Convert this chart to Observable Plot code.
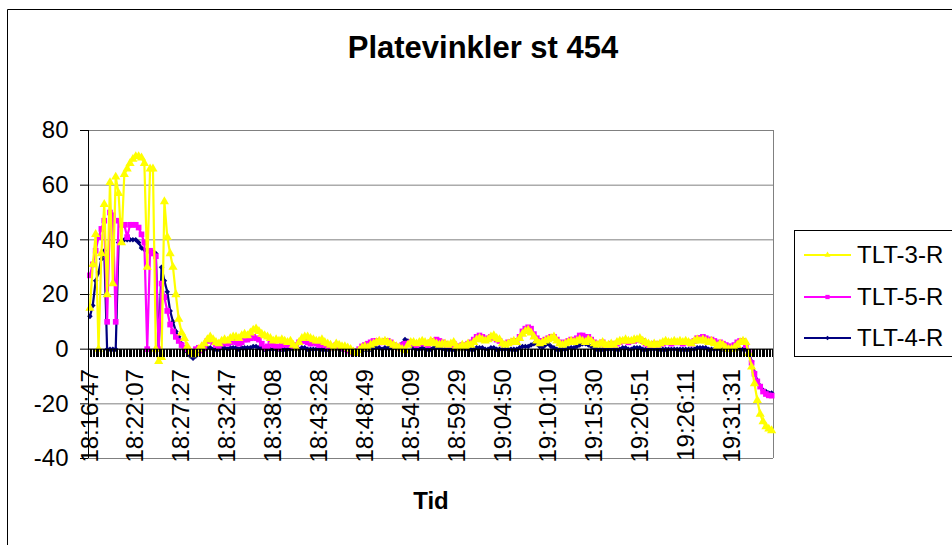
<!DOCTYPE html>
<html>
<head>
<meta charset="utf-8">
<script src="https://cdn.jsdelivr.net/npm/d3@7"></script>
<script src="https://cdn.jsdelivr.net/npm/@observablehq/plot@0.6"></script>
<style>
  html, body { margin: 0; padding: 0; background: #fff; }
  #wrap { position: relative; width: 952px; height: 545px; overflow: hidden; font-family: "Liberation Sans", Arial, sans-serif; }
  #wrap > svg { position: absolute; left: 0; top: 0; }
  #overlay { pointer-events: none; }
</style>
</head>
<body>
<div id="wrap"></div>
<script>
// ---------- data ----------
const chartTitle = "Platevinkler st 454";
const xTitle = "Tid";
const startTime = "18:16:47";
const stepSeconds = 20;
const tickLabels = ["18:16:47","18:22:07","18:27:27","18:32:47","18:38:08","18:43:28","18:48:49","18:54:09","18:59:29","19:04:50","19:10:10","19:15:30","19:20:51","19:26:11","19:31:31"];
const yTicks = [-40, -20, 0, 20, 40, 60, 80];
const seriesNames = ["TLT-3-R", "TLT-5-R", "TLT-4-R"];

const tlt3 = [15,31,42,0,35,53,20,61,24,63,57,39,64,66,68,69.5,70.5,70.5,70,68,30,66,66,0,-4.5,-3,54,41,35,30,20,11,6,4,1,-1,-2,-1.5,0,
  1,2,3.5,4.5,3.5,2.5,2,3,3.5,3,
  4,4.5,4.5,4,5,5.5,5,6,7,7.5,
  6.5,5.5,5,4.5,4,3,3.5,3,3.5,3,
  2.5,3,1.5,0.5,2.5,4,4.5,4.5,4,3.5,
  3,3,3.5,2.5,2,1.5,0.5,2,1.5,1,
  1,0.5,0,-1,-1.5,-0.5,0.5,1,0.5,1.5,2,
  2.5,3,2.5,3,2.5,2,1.5,1,0.5,0,
  -0.5,1.5,2.5,2.5,2,2.5,3,2.5,2,3,
  2.5,2,1.5,2,2,1.5,2,2.5,1,0.5,
  1.5,1,2,1.5,2.5,3.5,4,3.5,3,3.5,
  4.5,5,4,3.5,2,1.5,2,2.5,3,2.5,
  4,5.5,6.5,7,6,4.5,3,2,2.5,3,
  3.5,4,4.5,3,2,1.5,2,2.5,3,2.5,
  3,3.5,3,2.5,3.5,3,2,1.5,2,2.5,
  1.5,1.5,2,1.5,2.5,3,3,3.5,3,3,
  3.5,3.5,4,3,2.5,2,1.5,2,1.5,2,
  2.5,3,2.5,2.5,3,2.5,3,2.5,3,2.5,
  2,3,3.5,3,3.5,3,2.5,3,2,1,
  2,1.5,0.5,0,0,0.5,1.5,2.5,3,2.5,
  -1.5,-6.5,-12.6,-18.7,-23.8,-26.5,-28.3,-29.2,-29.8];

const tlt5 = [27,31,36,41,44,47,10,50,49,10,47,45.5,45.5,41,45.5,45.5,45.5,44.5,42,39,0,36,35,34,0,24,19,14,9,6.5,4.5,3,1.5,0.5,0,-1,-1,0,0.5,
  -0.5,0.5,3,3.5,2.5,1.5,1,2,2.5,2,
  2.5,3,2.5,2,2.5,3.5,3.5,4,4.5,4,
  3.5,2,0.5,1,2,1.5,1,0.5,1.5,2,
  1.5,2,1,1.5,2.5,3,3,2.5,2,2.5,
  2,1.5,2,1.5,1,0.5,1,1.5,1,0.5,
  0,-0.5,-1,-1.5,-1,0,1,1.5,2,2.5,3,
  3,2.5,2.5,3,3,2.5,1.5,1,0.5,1.5,
  2,2,2.5,2,1.5,2,2.5,2,1.5,2.5,
  3,3.5,3,2.5,2,1.5,1.5,2,1,1,
  1.5,1,2,2.5,3.5,4.5,5,4.5,3.5,4,
  4.5,4,3.5,3,2,2,2.5,2.5,3,3,
  4.5,6.5,7.5,8,7.5,5.5,4,3,3,3.5,
  4,4.5,4.5,3.5,2.5,2,2.5,3,3.5,3,
  4,5,5,4.5,4.5,3.5,2.5,2,2,2.5,
  1.5,1.5,2,1.5,2,2.5,3,3,2.5,3,
  3,3.5,3.5,3,2,1.5,1.5,2,1.5,2,
  2,2.5,2.5,2,2.5,2.5,2.5,2,2.5,2.5,
  2,3,4,4,4.5,4,3.5,3.5,3,2,
  2.5,2,1.5,1,1,1.5,2.5,3,3,1.5,
  -1,-5,-9,-11.8,-13.7,-15.5,-16.4,-16.9,-17];

const tlt4 = [12,16,25,28,33,36,0,0,0,0,39,39.5,40,40,40,40,40,39,37,36.5,36,36,35.5,35,0,30,25,21,14,10,6.5,4.5,2,0.5,-1,-2.5,-3.3,-2.5,-1,
  0,0,0.5,0.5,0,0,0,0.5,0.5,0,
  0.5,0.5,0.5,0,0.5,0.5,0.5,0.5,1,1,
  0.5,0.5,0,0,0,0,0,0,0,0,
  0,0,0,0,0,0.5,0.5,0,0,0,
  0,0,0,0,0,0,0,0,0,0,
  0,0,0,-0.5,-0.5,0,0,0,0,0,0.5,
  0.5,0.5,0,0.5,0.5,0.5,0.5,0.5,1,2,
  3.5,3,1.5,0.5,0,0,0.5,0,0,0,
  0.5,0.5,0.5,0,0,0,0,0,0,0,
  0,0,0,0,0,0.5,0.5,0.5,0,0,
  0.5,0.5,0,0,0,0,0,0,0,0,
  0.5,1,1,1,1.5,2,2,1,0.5,1.5,
  2,1,0.5,0,0,0,0,0.5,0.5,0.5,
  1,1.5,2,2,1.5,1,0.5,0,0,0,
  0,0,0,0,0,0,0.5,0.5,0,0,
  0.5,0.5,0.5,0,0,0,0,0,0,0,
  0,0,0,0,0,0,0,0,0,0,
  0,0,0.5,0.5,0.5,0.5,0,0,0,0,
  0,0,0,0,0,0,0,0,0,0,
  -1,-4.5,-8.5,-11.5,-13.5,-15,-15.5,-16,-16];

// ---------- build ----------
const parse = d3.utcParse("%H:%M:%S");
const t0 = parse(startTime);
const timeAt = i => new Date(+t0 + i * stepSeconds * 1000);
const xDomain = [new Date(+t0 - 10000), new Date(+t0 + 4773000)];
const categoryTicks = d3.utcSecond.every(10).range(xDomain[0], xDomain[1]);

const seriesStyle = {
  "TLT-3-R": {values: tlt3, color: "#FFFF00", symbol: "triangle", r: 3.4},
  "TLT-5-R": {values: tlt5, color: "#FF00FF", symbol: "square", r: 3.2},
  "TLT-4-R": {values: tlt4, color: "#000080", symbol: "diamond2", r: 2.5}
};
const rowsOf = name => seriesStyle[name].values.map((v, i) => ({t: timeAt(i), v}));

const drawOrder = ["TLT-4-R", "TLT-5-R", "TLT-3-R"];
const seriesMarks = drawOrder.flatMap(name => {
  const s = seriesStyle[name];
  const rows = rowsOf(name);
  return [
    Plot.line(rows, {x: "t", y: "v", stroke: s.color, strokeWidth: 2.2}),
    Plot.dot(rows, {x: "t", y: "v", symbol: s.symbol, r: s.r, fill: s.color})
  ];
});

const font = '"Liberation Sans", Arial, sans-serif';
const chart = Plot.plot({
  width: 952,
  height: 545,
  marginLeft: 88,
  marginRight: 179,
  marginTop: 130,
  marginBottom: 87,
  style: {fontFamily: font, fontSize: "24px", color: "#000", background: "transparent", overflow: "visible"},
  x: {type: "utc", domain: xDomain, axis: null},
  y: {domain: [-40, 80], ticks: yTicks, tickSize: 8, tickPadding: 12, label: null, tickFormat: d => String(d)},
  marks: [
    Plot.ruleY(yTicks, {stroke: "#808080", strokeWidth: 1}),
    Plot.ruleX([xDomain[1]], {stroke: "#808080", strokeWidth: 1}),
    ...seriesMarks,
    Plot.ruleX(categoryTicks, {x: d => d, y1: () => 0, y2: () => -2.9, stroke: "#000", strokeWidth: 1, shapeRendering: "crispEdges"}),
    Plot.ruleY([0], {stroke: "#000", strokeWidth: 1}),
    Plot.ruleX([xDomain[0]], {stroke: "#000", strokeWidth: 1}),
    Plot.text(tickLabels, {x: d => parse(d), y: () => 0, text: d => d, rotate: -90, textAnchor: "end", lineAnchor: "middle", dy: 20, fontSize: 24, fill: "#000"})
  ]
});
document.getElementById("wrap").appendChild(chart);

// ---------- overlay: frame, title, axis title, legend ----------
const svg = d3.select("#wrap").append("svg")
  .attr("id", "overlay").attr("width", 952).attr("height", 545)
  .style("font-family", font);

svg.append("path").attr("d", "M7.5,545V9.5H952").attr("fill", "none").attr("stroke", "#000").attr("stroke-width", 1);

svg.append("text").attr("x", 483).attr("y", 58).attr("text-anchor", "middle")
  .attr("font-size", 31).attr("font-weight", "bold").text(chartTitle);

svg.append("text").attr("x", 431).attr("y", 509).attr("text-anchor", "middle")
  .attr("font-size", 24).attr("font-weight", "bold").text(xTitle);

svg.append("rect").attr("x", 794.5).attr("y", 230.5).attr("width", 200).attr("height", 126)
  .attr("fill", "#fff").attr("stroke", "#000").attr("stroke-width", 1);

const symbolMap = {triangle: d3.symbolTriangle, square: d3.symbolSquare, diamond2: d3.symbolDiamond2};
const legendRowY = [255, 297, 338];
const legendMarkerR = {"TLT-3-R": 2.2, "TLT-5-R": 2.4, "TLT-4-R": 2.0};
seriesNames.forEach((name, k) => {
  const s = seriesStyle[name];
  const y = legendRowY[k];
  const g = svg.append("g");
  g.append("line").attr("x1", 804).attr("x2", 851).attr("y1", y).attr("y2", y)
    .attr("stroke", s.color).attr("stroke-width", 2);
  g.append("path").attr("transform", `translate(827.5,${y})`)
    .attr("d", d3.symbol(symbolMap[s.symbol], Math.PI * legendMarkerR[name] ** 2)()).attr("fill", s.color);
  g.append("text").attr("x", 857).attr("y", y + 8).attr("font-size", 24).attr("fill", "#000").text(name);
});
</script>
</body>
</html>
